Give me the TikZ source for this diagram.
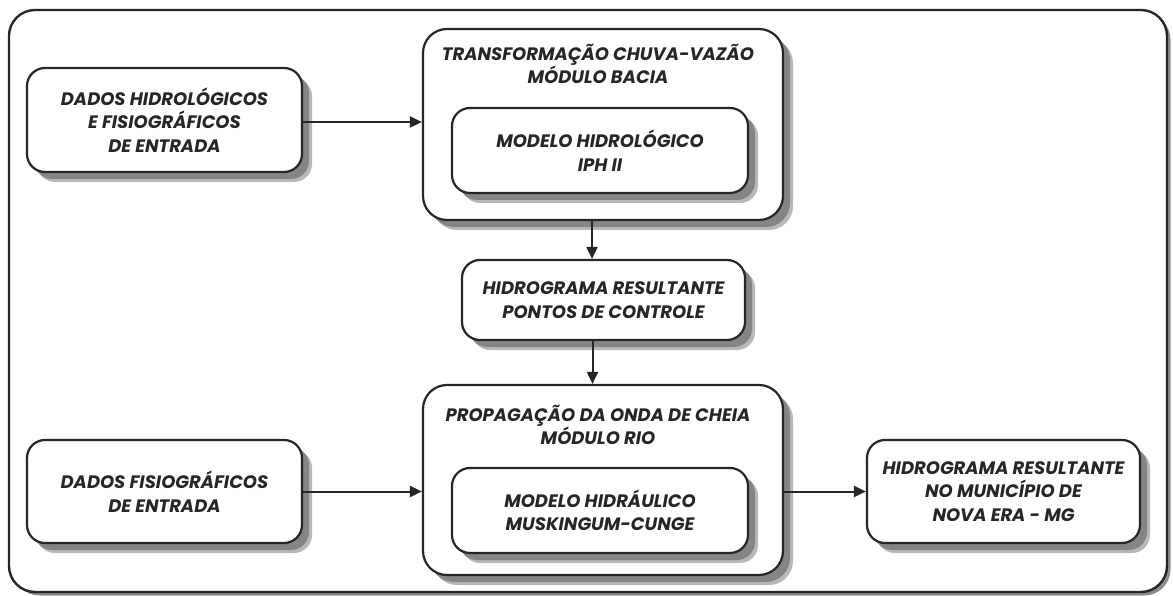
\documentclass[tikz,border=0pt]{standalone}
\usepackage{fontspec}
\setmainfont{Poppins}
\usetikzlibrary{arrows.meta}
\begin{document}
\begin{tikzpicture}[x=1pt,y=-1pt,
  shadowsoft/.style={fill=black!28},
  shadowcore/.style={fill=black!48},
  box/.style={draw=black!85, line width=2.2pt, rounded corners=18pt, fill=white, inner sep=0pt},
  bigbox/.style={box, rounded corners=24pt},
  frame/.style={draw=black!85, line width=2.4pt, rounded corners=26pt, inner sep=0pt},
  lbl/.style={align=center, font=\fontsize{18}{23.5}\selectfont\bfseries\itshape, text=black!85},
  arr/.style={line width=2pt, draw=black!85, -{Triangle[length=12pt,width=11pt]}}]
\useasboundingbox (0,0) rectangle (1173,596);
% outer frame
\fill[black!45, rounded corners=26pt] (13.5,13.5) rectangle (1170.5,595.5);
\fill[white, rounded corners=26pt] (10,10) rectangle (1167,592);
\node[frame, minimum width=1158pt, minimum height=582pt] (outer) at (588,301) {};
% input: hydrological data
\fill[shadowsoft, rounded corners=18pt] (37,78) rectangle (312,182);
\fill[shadowcore, rounded corners=18pt] (34,75) rectangle (309,179);
\node[box, lbl, minimum width=275pt, minimum height=104pt] (hidro) at (164.5,120)
  {DADOS HIDROLÓGICOS\\E FISIOGRÁFICOS\\DE ENTRADA};
% input: physiographic data
\fill[shadowsoft, rounded corners=18pt] (37,450) rectangle (312,553);
\fill[shadowcore, rounded corners=18pt] (34,447) rectangle (309,550);
\node[box, lbl, minimum width=275pt, minimum height=103pt] (fisio) at (164.5,491.5)
  {DADOS FISIOGRÁFICOS\\DE ENTRADA};
% basin module
\fill[shadowsoft, rounded corners=24pt] (433,39) rectangle (793,230);
\fill[shadowcore, rounded corners=24pt] (430,36) rectangle (790,227);
\node[bigbox, minimum width=360pt, minimum height=191pt] (bacia) at (603,124.5) {};
\node[lbl] (baciat) at (598,64) {TRANSFORMAÇÃO CHUVA-VAZÃO\\MÓDULO BACIA};
% IPH II
\fill[shadowsoft, rounded corners=18pt] (462,118) rectangle (758,203);
\fill[shadowcore, rounded corners=18pt] (459,115) rectangle (755,200);
\node[box, lbl, minimum width=296pt, minimum height=85pt] (iph) at (600,150.5)
  {MODELO HIDROLÓGICO\\IPH II};
% control points
\fill[shadowsoft, rounded corners=18pt] (472,270) rectangle (755,350);
\fill[shadowcore, rounded corners=18pt] (469,267) rectangle (752,347);
\node[box, lbl, minimum width=283pt, minimum height=80pt] (pontos) at (603.5,300)
  {HIDROGRAMA RESULTANTE\\PONTOS DE CONTROLE};
% river module
\fill[shadowsoft, rounded corners=24pt] (433,395) rectangle (793,585);
\fill[shadowcore, rounded corners=24pt] (430,392) rectangle (790,582);
\node[bigbox, minimum width=360pt, minimum height=190pt] (rio) at (603,480) {};
\node[lbl] (riot) at (598,425) {PROPAGAÇÃO DA ONDA DE CHEIA\\MÓDULO RIO};
% Muskingum-Cunge
\fill[shadowsoft, rounded corners=18pt] (462,478) rectangle (758,563);
\fill[shadowcore, rounded corners=18pt] (459,475) rectangle (755,560);
\node[box, lbl, minimum width=296pt, minimum height=85pt] (musk) at (600,510.5)
  {MODELO HIDRÁULICO\\MUSKINGUM-CUNGE};
% result
\fill[shadowsoft, rounded corners=18pt] (877,450) rectangle (1150,553);
\fill[shadowcore, rounded corners=18pt] (874,447) rectangle (1147,550);
\node[box, lbl, minimum width=273pt, minimum height=103pt] (result) at (1003.5,491.5)
  {HIDROGRAMA RESULTANTE\\NO MUNICÍPIO DE\\NOVA ERA - MG};
% connectors
\draw[arr] ([yshift=-2pt]hidro.east) -- ([yshift=-2pt]hidro.east -| bacia.west);
\draw[arr] ([xshift=-11pt]bacia.south) -- ([xshift=-11pt]bacia.south |- pontos.north);
\draw[arr] ([xshift=-11pt]pontos.south) -- ([xshift=-11pt]pontos.south |- rio.north);
\draw[arr] (fisio.east) -- (fisio.east -| rio.west);
\draw[arr] (fisio.east -| rio.east) -- (result.west);
\end{tikzpicture}
\end{document}
